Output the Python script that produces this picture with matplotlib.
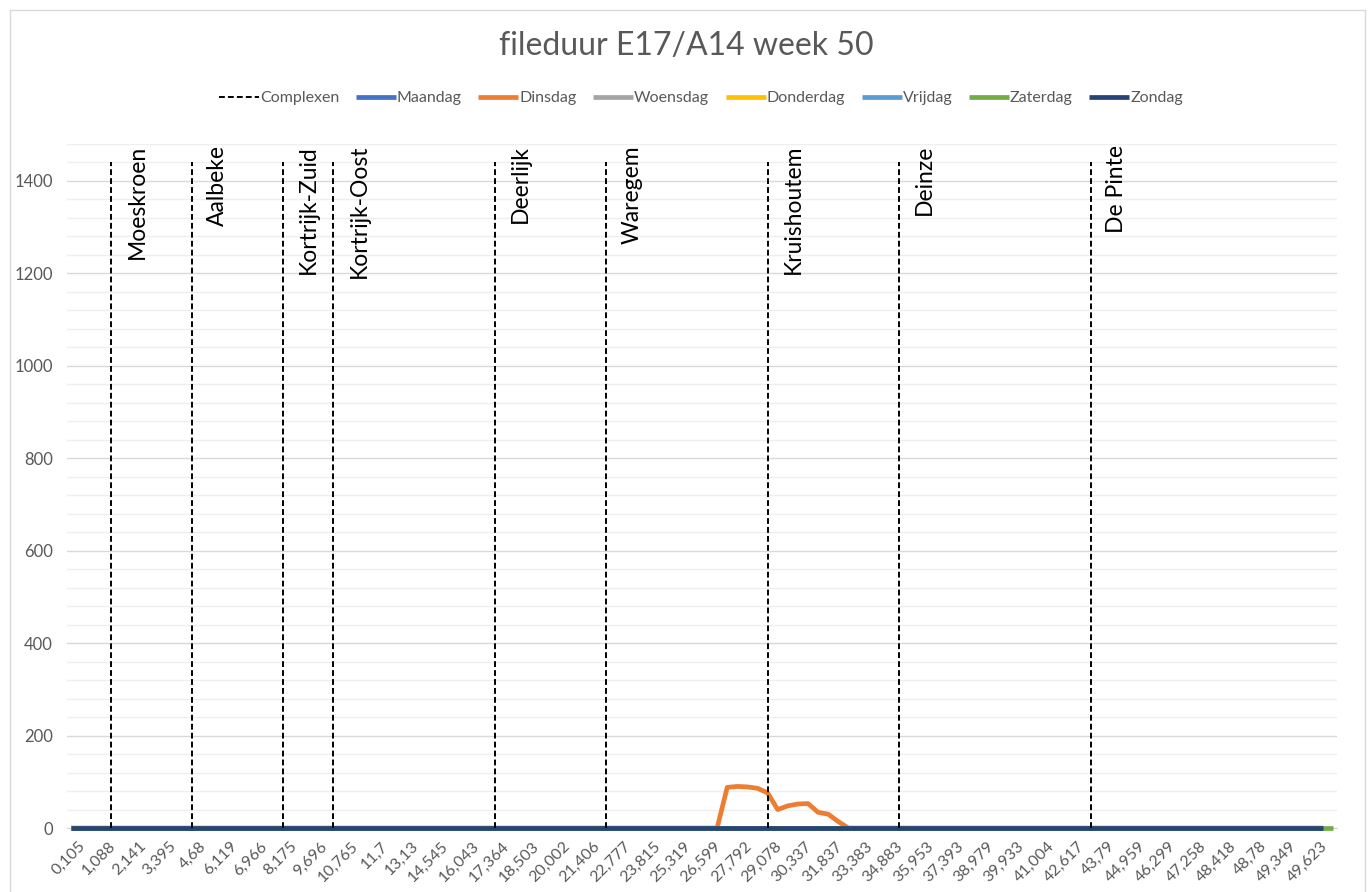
import matplotlib
matplotlib.use("Agg")
import matplotlib.pyplot as plt
from matplotlib.patches import Rectangle
from matplotlib.transforms import ScaledTranslation

plt.rcParams["font.family"] = ["Lato", "DejaVu Sans"]

# Category labels shown on the x axis (every third measuring point, km)
km_labels = ["0,105", "1,088", "2,141", "3,395", "4,68", "6,119", "6,966",
             "8,175", "9,696", "10,765", "11,7", "13,13", "14,545", "16,043",
             "17,364", "18,503", "20,002", "21,406", "22,777", "23,815",
             "25,319", "26,599", "27,792", "29,078", "30,337", "31,837",
             "33,383", "34,883", "35,953", "37,393", "38,979", "39,933",
             "41,004", "42,617", "43,79", "44,959", "46,299", "47,258",
             "48,418", "48,78", "49,349", "49,623"]
label_step = 3
n_points = 126

# Interchanges ("Complexen") as category positions
complex_names = ["Moeskroen", "Aalbeke", "Kortrijk-Zuid", "Kortrijk-Oost",
                 "Deerlijk", "Waregem", "Kruishoutem", "Deinze", "De Pinte"]
complex_idx = [4, 12, 21, 26, 42, 53, 69, 82, 101]
complex_height = 1440

# Traffic jam duration per day (minutes)
maandag = [0] * 125
dinsdag = [0] * 65 + [88, 90, 89, 86, 76, 40, 48, 52, 53, 34, 30, 14] + [0] * 48
woensdag = [0] * 125
donderdag = [0] * 125
vrijdag = [0] * 125
zaterdag = [0] * 126
zondag = [0] * 125

days = ["Maandag", "Dinsdag", "Woensdag", "Donderdag", "Vrijdag",
        "Zaterdag", "Zondag"]
series = [maandag, dinsdag, woensdag, donderdag, vrijdag, zaterdag, zondag]
colors = ["#4472C4", "#ED7D31", "#A5A5A5", "#FFC000", "#5B9BD5",
          "#70AD47", "#264478"]

fig = plt.figure(figsize=(13.72, 8.92), dpi=100)
ax = fig.add_axes([0.0488, 0.0717, 0.9257, 0.7669])

# Chart area border
fig.patches.append(Rectangle((10 / 1372, -0.01), 1355 / 1372, 1 - 10 / 892 + 0.01,
                             transform=fig.transFigure, fill=False,
                             edgecolor="#d9d9d9", linewidth=1.0))

# Complexen as vertical dashed lines
ax.vlines(complex_idx, 0, complex_height, colors="black", linewidth=1.4,
          linestyles=(0, (3, 1.6)), label="Complexen", zorder=4)
for name, idx in zip(complex_names, complex_idx):
    ax.text(idx + 1.5, 1478, name, rotation=90, ha="left", va="top",
            fontsize=16.5, color="black", zorder=5)

for name, vals, col in zip(days, series, colors):
    ax.plot(range(len(vals)), vals, color=col, linewidth=3.4, label=name,
            solid_capstyle="butt", solid_joinstyle="round", zorder=3,
            clip_on=False)

# Axes
ax.set_xlim(-0.4, n_points - 0.6)
ax.set_ylim(0, 1480)
ax.set_yticks(range(0, 1401, 200))
ax.set_yticks(range(0, 1481, 40), minor=True)
ax.grid(True, which="major", axis="y", color="#d9d9d9", linewidth=1.0)
ax.grid(True, which="minor", axis="y", color="#efefef", linewidth=1.0)
ax.set_axisbelow(True)
ax.tick_params(axis="y", which="both", length=0, pad=10, labelsize=12,
               labelcolor="#595959")
ax.set_xticks(range(0, len(km_labels) * label_step, label_step))
ax.set_xticklabels(km_labels, rotation=45, ha="right", va="top",
                   rotation_mode="anchor", fontsize=11.5, color="#595959")
ax.tick_params(axis="x", length=0, pad=8)
shift = ScaledTranslation(7 / 100, 0, fig.dpi_scale_trans)
for lab in ax.get_xticklabels():
    lab.set_transform(lab.get_transform() + shift)
for side in ["top", "right", "left"]:
    ax.spines[side].set_visible(False)
ax.spines["bottom"].set_color("#d9d9d9")

fig.text(0.5, 0.948, "fileduur E17/A14 week 50", ha="center", va="center",
         fontsize=23, color="#595959")
fig.legend(loc="center", bbox_to_anchor=(0.511, 0.89), ncol=8, frameon=False,
           fontsize=11.5, handlelength=2.5, columnspacing=1.05, handletextpad=0.05,
           labelcolor="#595959")

fig.savefig("out.png", dpi=100)
